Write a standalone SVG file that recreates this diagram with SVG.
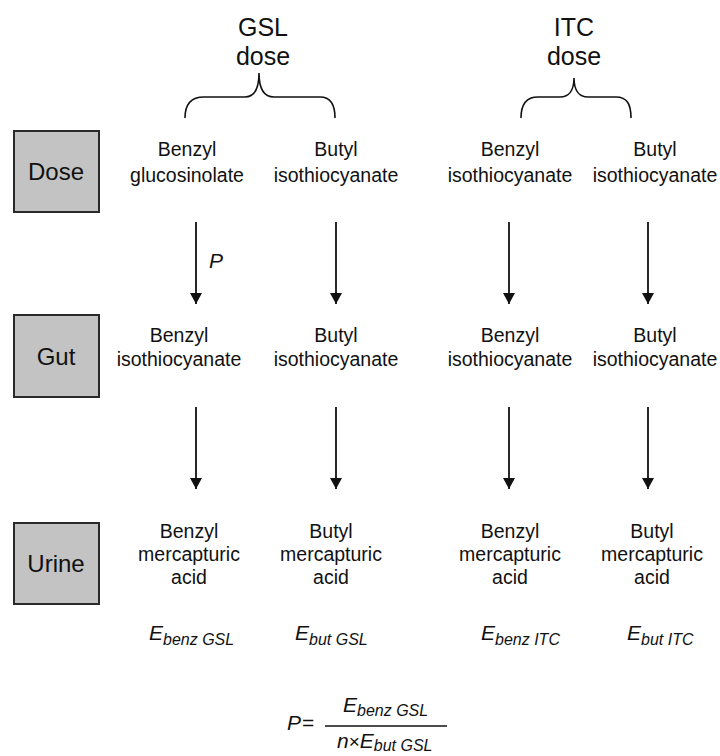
<svg xmlns="http://www.w3.org/2000/svg" width="720" height="756" viewBox="0 0 720 756">
<defs>
<style>
text{font-family:"Liberation Sans",Arial,sans-serif;fill:#111;}
.lbl{font-size:19.5px;text-anchor:middle;}
.hd{font-size:25px;text-anchor:middle;}
.box{fill:#c3c3c3;stroke:#2a2a2a;stroke-width:2;}
.bx{font-size:24px;text-anchor:middle;}
.e{font-size:21px;font-style:italic;}
.sub{font-size:16px;font-style:italic;}
.arr{stroke:#111;stroke-width:1.8;fill:none;marker-end:url(#ah);}
.brace{stroke:#111;stroke-width:1.6;fill:none;}
</style>
<marker id="ah" markerUnits="userSpaceOnUse" markerWidth="12" markerHeight="14" refX="11" refY="6" orient="auto">
<path d="M0,0 L11,6 L0,12 Z" fill="#111"/>
</marker>
</defs>

<g id="gsl-dose">
<text class="hd" x="263" y="36">GSL</text>
<text class="hd" x="263" y="65">dose</text>
<path class="brace" d="M185,118 C185,104 191,97 204,97 L245,97 C254,97 259,90 259,73 C259,90 264,97 274,97 L320,97 C330,97 335,104 335,118"/>
</g>
<g id="itc-dose">
<text class="hd" x="574" y="36">ITC</text>
<text class="hd" x="574" y="65">dose</text>
<path class="brace" d="M521,118 C521,104 527,97 538,97 L560,97 C569,97 574,90 574,78 C574,90 579,97 588,97 L616,97 C627,97 631,104 631,118"/>
</g>

<g id="box-dose"><rect class="box" x="14" y="131" width="85" height="81"/><text class="bx" x="56" y="180">Dose</text></g>
<g id="box-gut"><rect class="box" x="14" y="315" width="85" height="82"/><text class="bx" x="56" y="365">Gut</text></g>
<g id="box-urine"><rect class="box" x="14" y="523" width="85" height="81"/><text class="bx" x="56" y="572">Urine</text></g>

<g id="dose-1"><text class="lbl" x="187" y="156">Benzyl</text><text class="lbl" x="187" y="182">glucosinolate</text></g>
<g id="dose-2"><text class="lbl" x="336" y="156">Butyl</text><text class="lbl" x="336" y="182">isothiocyanate</text></g>
<g id="dose-3"><text class="lbl" x="510" y="156">Benzyl</text><text class="lbl" x="510" y="182">isothiocyanate</text></g>
<g id="dose-4"><text class="lbl" x="655" y="156">Butyl</text><text class="lbl" x="655" y="182">isothiocyanate</text></g>

<g id="gut-1"><text class="lbl" x="179" y="342">Benzyl</text><text class="lbl" x="179" y="366">isothiocyanate</text></g>
<g id="gut-2"><text class="lbl" x="336" y="342">Butyl</text><text class="lbl" x="336" y="366">isothiocyanate</text></g>
<g id="gut-3"><text class="lbl" x="510" y="342">Benzyl</text><text class="lbl" x="510" y="366">isothiocyanate</text></g>
<g id="gut-4"><text class="lbl" x="655" y="342">Butyl</text><text class="lbl" x="655" y="366">isothiocyanate</text></g>

<g id="urine-1"><text class="lbl" x="189" y="538">Benzyl</text><text class="lbl" x="189" y="561">mercapturic</text><text class="lbl" x="189" y="584">acid</text></g>
<g id="urine-2"><text class="lbl" x="331" y="538">Butyl</text><text class="lbl" x="331" y="561">mercapturic</text><text class="lbl" x="331" y="584">acid</text></g>
<g id="urine-3"><text class="lbl" x="510" y="538">Benzyl</text><text class="lbl" x="510" y="561">mercapturic</text><text class="lbl" x="510" y="584">acid</text></g>
<g id="urine-4"><text class="lbl" x="652" y="538">Butyl</text><text class="lbl" x="652" y="561">mercapturic</text><text class="lbl" x="652" y="584">acid</text></g>

<g id="excretion">
<text x="149" y="640"><tspan class="e">E</tspan><tspan class="sub" dy="5">benz GSL</tspan></text>
<text x="295" y="640"><tspan class="e">E</tspan><tspan class="sub" dy="5">but GSL</tspan></text>
<text x="481" y="640"><tspan class="e">E</tspan><tspan class="sub" dy="5">benz ITC</tspan></text>
<text x="627" y="640"><tspan class="e">E</tspan><tspan class="sub" dy="5">but ITC</tspan></text>
</g>

<g id="connectors">
<line class="arr" x1="196" y1="222" x2="196" y2="304"/>
<line class="arr" x1="336" y1="222" x2="336" y2="304"/>
<line class="arr" x1="509" y1="222" x2="509" y2="304"/>
<line class="arr" x1="648" y1="222" x2="648" y2="304"/>
<line class="arr" x1="196" y1="407" x2="196" y2="489"/>
<line class="arr" x1="336" y1="407" x2="336" y2="489"/>
<line class="arr" x1="509" y1="407" x2="509" y2="489"/>
<line class="arr" x1="648" y1="407" x2="648" y2="489"/>
<text class="e" x="209" y="268">P</text>
</g>

<g id="formula">
<text class="e" x="287" y="730">P</text>
<text x="302" y="730" font-size="21px">=</text>
<line x1="325" y1="726" x2="447" y2="726" stroke="#111" stroke-width="1.6"/>
<text x="343" y="712"><tspan class="e">E</tspan><tspan class="sub" dy="4">benz GSL</tspan></text>
<text x="337" y="748"><tspan class="e">n</tspan><tspan font-size="19px">×</tspan><tspan class="e">E</tspan><tspan class="sub" dy="3">but GSL</tspan></text>
</g>
</svg>
